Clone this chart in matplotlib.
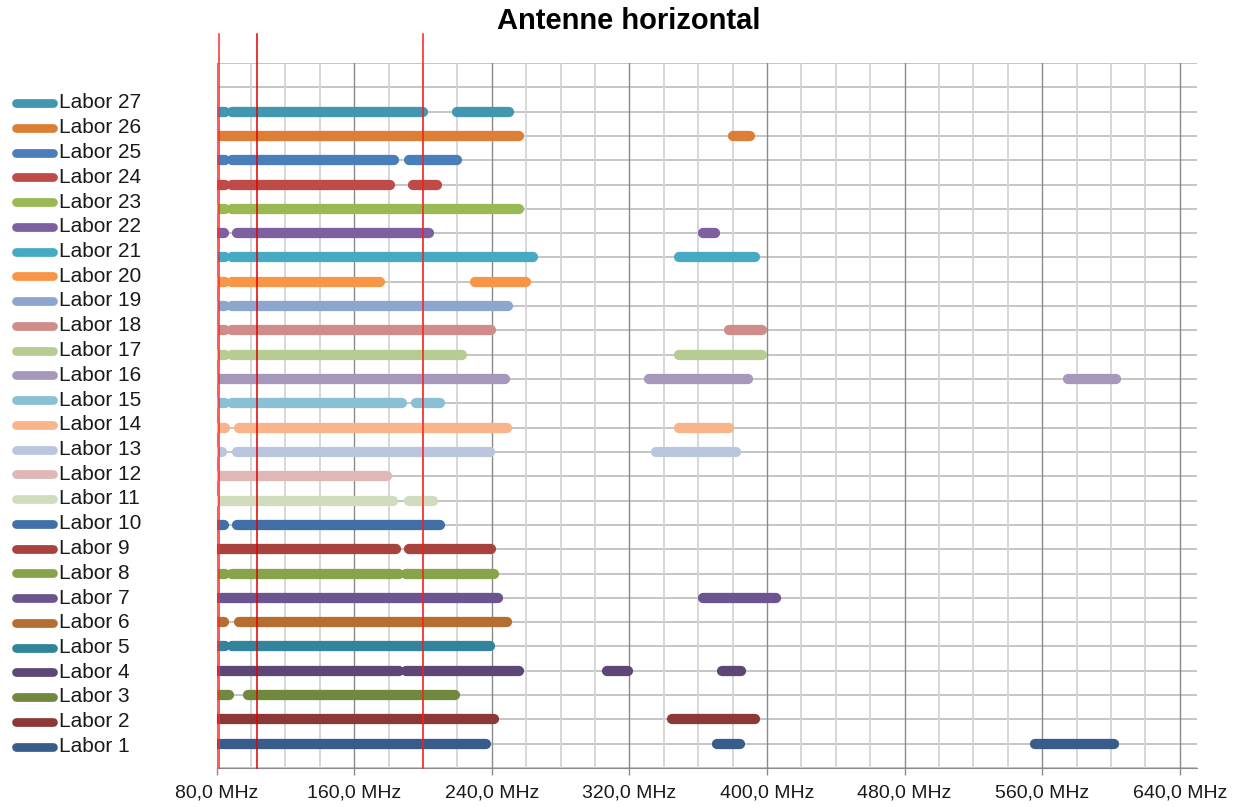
import matplotlib
matplotlib.use("Agg")
import matplotlib.pyplot as plt
from matplotlib.lines import Line2D

plt.rcParams['font.family'] = ['Liberation Sans', 'DejaVu Sans']

# Frequency ranges (MHz) per lab, each a list of (start, end) segments
labs = [f"Labor {i}" for i in range(1, 28)]
segments = {
    "Labor 1":  [(76, 236.7), (371, 384), (556, 602)],
    "Labor 2":  [(76, 241.5), (345, 393)],
    "Labor 3":  [(76, 87), (98, 218.6)],
    "Labor 4":  [(76, 186), (190, 256), (307, 319), (374, 385)],
    "Labor 5":  [(76, 85), (89, 239.2)],
    "Labor 6":  [(76, 84), (93, 249)],
    "Labor 7":  [(76, 243.5), (363, 405)],
    "Labor 8":  [(76, 85), (89, 186), (190, 241.5)],
    "Labor 9":  [(76, 184.5), (192, 239.5)],
    "Labor 10": [(76, 84), (92, 210)],
    "Labor 11": [(76, 182.5), (192, 205.5)],
    "Labor 12": [(76, 179)],
    "Labor 13": [(76, 83), (92, 239.2), (335.5, 381.7)],
    "Labor 14": [(76, 85), (93, 249), (349, 378)],
    "Labor 15": [(76, 85), (89, 188), (196, 210)],
    "Labor 16": [(76, 247.8), (331.4, 389), (575, 603)],
    "Labor 17": [(76, 85), (89, 222.8), (349, 397)],
    "Labor 18": [(76, 85), (89, 239.4), (378, 397)],
    "Labor 19": [(76, 85), (89, 249.3)],
    "Labor 20": [(76, 85), (89, 175.2), (230, 260)],
    "Labor 21": [(76, 85), (89, 264), (349, 393)],
    "Labor 22": [(76, 84), (92, 203.6), (363, 370)],
    "Labor 23": [(76, 85), (89, 256)],
    "Labor 24": [(76, 85), (89, 180.6), (194, 208)],
    "Labor 25": [(76, 85), (89, 183), (192, 220)],
    "Labor 26": [(76, 256), (380, 390)],
    "Labor 27": [(76, 85), (89, 200), (220, 250)],
}
colors = [
    "#385D8A", "#8C3836", "#71893F", "#5C4776", "#31849B", "#B66D31",
    "#6B5490", "#86A44A", "#A8423F", "#426FA8", "#D0DCBD", "#DFB7B6",
    "#B9C6DE", "#F9B48A", "#8AC0D3", "#A697BC", "#B6CC93", "#CF8C8B",
    "#8CA6CE", "#F79646", "#46AAC5", "#7D60A0", "#98B954", "#BE4B48",
    "#4A7EBB", "#DC7E35", "#4097AF",
]
marker_freqs = [81.2, 103.5, 200.0]
marker_colors = ["#ff2a2a", "#e00000", "#ff1a1a"]
x_ticks = [80, 160, 240, 320, 400, 480, 560, 640]
x_ticklabels = [f"{v:.1f}".replace(".", ",") + " MHz" for v in x_ticks]
title = "Antenne horizontal"

fig = plt.figure(figsize=(12.39, 8.07), dpi=100)
ax = fig.add_axes([216.7 / 1239, 1 - 768 / 807, (1197 - 216.7) / 1239, (768 - 63) / 807])

ax.set_xlim(80, 650)
ax.set_ylim(0, 29)

# grid
for y in range(0, 30):
    ax.axhline(y, color="#c0c0c0", lw=1.3, zorder=1)
for x in range(100, 650, 20):
    if x % 80 == 0:
        ax.axvline(x, color="#8a8a8a", lw=1.0, zorder=1)
    else:
        ax.axvline(x, color="#d4d4d4", lw=1.3, zorder=1)

lw_bar = 7.4
for i, (lab, col) in enumerate(zip(labs, colors)):
    row = i + 1
    for (s, e) in segments[lab]:
        ax.plot([s, e], [row, row], color=col, lw=lw_bar,
                solid_capstyle="round", zorder=3)

for f, c in zip(marker_freqs, marker_colors):
    ax.axvline(f, ymin=0, ymax=1.041, color=c, lw=1.1, zorder=5, clip_on=False)

ax.set_yticks([])
ax.set_xticks(x_ticks)
ax.set_xticklabels(x_ticklabels, fontsize=14, color="#1a1a1a")
ax.tick_params(axis="x", length=5, color="#8c8c8c", width=1.0, pad=7)
for side in ["top", "right"]:
    ax.spines[side].set_visible(False)
ax.spines["left"].set_color("#8c8c8c")
ax.spines["bottom"].set_color("#8c8c8c")

fig.text(629 / 1239, 1 - 21 / 807, title, ha="center", va="center",
         fontsize=21, fontweight="bold")

# legend on the left, Labor 27 on top
for i, (lab, col) in enumerate(zip(labs, colors)):
    ypx = 746.5 - i * 24.75
    yf = 1 - ypx / 807
    fig.add_artist(Line2D([16 / 1239, 53 / 1239], [yf, yf], color=col, lw=6.3,
                          solid_capstyle="round", transform=fig.transFigure))
    fig.text(59 / 1239, yf, lab, ha="left", va="center", fontsize=15,
             color="#1a1a1a")

fig.savefig("out.png", dpi=100)
